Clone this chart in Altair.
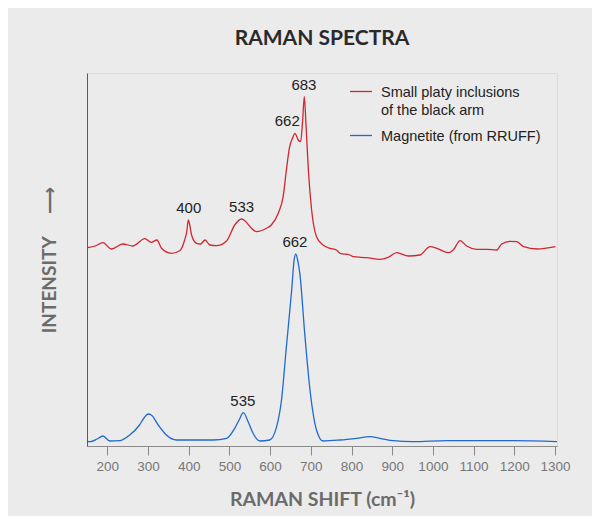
import altair as alt
import pandas as pd

# ---- data (arbitrary intensity units) ----
red_name = "Small platy inclusions of the black arm"
blue_name = "Magnetite (from RRUFF)"

red_shift = [152, 170, 189, 210, 238, 263, 292, 308, 322, 333, 357, 378, 390, 395, 399,
             403, 407, 419, 429, 440, 452, 468, 493, 513, 530, 538, 554, 567, 591, 603,
             620, 632, 640, 648, 655, 661, 669, 675, 680, 684, 688, 694, 702, 714, 730,
             747, 763, 772, 796, 804, 837, 870, 890, 911, 940, 968, 993, 1010, 1038, 1050,
             1067, 1083, 1108, 1133, 1157, 1169, 1190, 1206, 1223, 1256, 1301]
red_int = [198.3, 200, 203.3, 197, 202, 200, 207.3, 203.7, 206, 197.7, 192.7, 195.3, 206, 214, 226,
           220, 211, 202.7, 202, 206, 201, 200.3, 205, 221, 227, 225.3, 217.7, 214.3, 217.7, 221,
           232.7, 249.3, 276, 299.3, 307.7, 312.7, 306, 304.3, 326, 349.3, 322.7, 276, 236, 209.3, 201,
           197.7, 196, 192.7, 191, 189.3, 188.3, 186.7, 188.7, 193.3, 190, 191, 199.3, 197.7, 193.3, 196,
           205.3, 200, 196.7, 196.7, 196, 202, 204.7, 204.3, 199.3, 197, 199.3]

blue_shift = [152, 158, 175, 189, 206, 230, 255, 279, 290, 300, 308, 325, 345, 370, 411,
              460, 493, 513, 525, 534, 546, 558, 575, 599, 616, 628, 640, 653, 659, 663,
              669, 673, 685, 698, 714, 730, 772, 813, 845, 870, 903, 951, 1034, 1116, 1197, 1305]
blue_int = [4.5, 4.3, 7, 10, 5, 5.3, 11, 21, 28, 32, 31, 21, 11, 6, 6,
            6, 7.7, 17.7, 27, 33.3, 24.3, 12.7, 5, 6, 19.3, 46, 99.3, 156, 186, 192,
            183, 172.7, 112.7, 56, 16, 5, 6, 7.7, 9.3, 7.7, 5.3, 4.3, 5.3, 5.3, 5.3, 4.3]

peak_text = ["683", "662", "400", "533", "662", "535"]
peak_shift = [683, 642, 400, 530, 661, 533]
peak_int = [349.3, 312.7, 226, 227, 192, 33.3]

tick_values = [200, 300, 400, 500, 600, 700, 800, 900, 1000, 1100, 1200, 1300]

# ---- tables ----
spectra = pd.concat([
    pd.DataFrame({"shift": red_shift, "intensity": red_int, "series": red_name}),
    pd.DataFrame({"shift": blue_shift, "intensity": blue_int, "series": blue_name}),
])
labels = pd.DataFrame({"shift": peak_shift, "intensity": peak_int, "text": peak_text})

xscale = alt.Scale(domain=[150, 1305], nice=False, zero=False)
yscale = alt.Scale(domain=[0, 373], nice=False, zero=True)

nb = "\u00a0"

lines = alt.Chart(spectra).mark_line(strokeWidth=1.3, interpolate="monotone", clip=True).encode(
    x=alt.X("shift:Q", scale=xscale,
            axis=alt.Axis(values=tick_values, format="d", tickSize=9, tickColor="#8a8a8a",
                          domainColor="#8a8a8a",
                          labelColor="#777777", labelFont="Liberation Sans", labelFontSize=13.5,
                          labelPadding=4, grid=False, title="RAMAN SHIFT (cm⁻¹)",
                          titleFont="Lato", titleFontWeight="bold", titleFontSize=19.5,
                          titleColor="#6b6b6b", titlePadding=18)),
    y=alt.Y("intensity:Q", scale=yscale,
            axis=alt.Axis(labels=False, ticks=False, grid=False, domainColor="#5a5a5a",
                          title="INTENSITY" + nb * 5 + "⟶", titleFont="Lato, 'DejaVu Sans'",
                          titleFontWeight="bold",
                          titleFontSize=19, titleColor="#6b6b6b", titlePadding=28)),
    color=alt.Color("series:N",
                    scale=alt.Scale(domain=[red_name, blue_name], range=["#d22630", "#1f69d0"]),
                    legend=alt.Legend(title=None, orient="none", legendX=262, legendY=1,
                                      symbolType="M-1,0.5L1,0.5", symbolSize=484,
                                      symbolStrokeWidth=1.3, labelBaseline="top",
                                      labelFont="Liberation Sans", labelFontSize=14.5,
                                      labelColor="#222222", labelOffset=8, padding=0,
                                      rowPadding=-3, labelLimit=300,
                                      labelExpr="datum.label == '" + red_name + "' ? ['Small platy inclusions', 'of the black arm'] : datum.label")),
    order=alt.Order("series:N"),
)

texts = alt.Chart(labels).mark_text(baseline="bottom", dy=-4, font="Liberation Sans",
                                    fontSize=15, color="#222222").encode(
    x=alt.X("shift:Q", scale=xscale),
    y=alt.Y("intensity:Q", scale=yscale),
    text="text:N",
)

chart = alt.layer(lines, texts).properties(
    width=470, height=373,
    title=alt.TitleParams("RAMAN SPECTRA", font="Lato", fontWeight="bold", fontSize=21,
                          color="#2a2a2a", offset=24, anchor="middle"),
    background="#ebebeb",
    padding={"left": 79, "top": 65, "right": 35, "bottom": 70},
    autosize=alt.AutoSizeParams(type="none"),
).configure_view(stroke=None, fill="white").configure(
    style={"guide-label": {"lineHeight": 18}}
)

chart.save("out.html", embed_options={"renderer": "svg", "actions": False})
